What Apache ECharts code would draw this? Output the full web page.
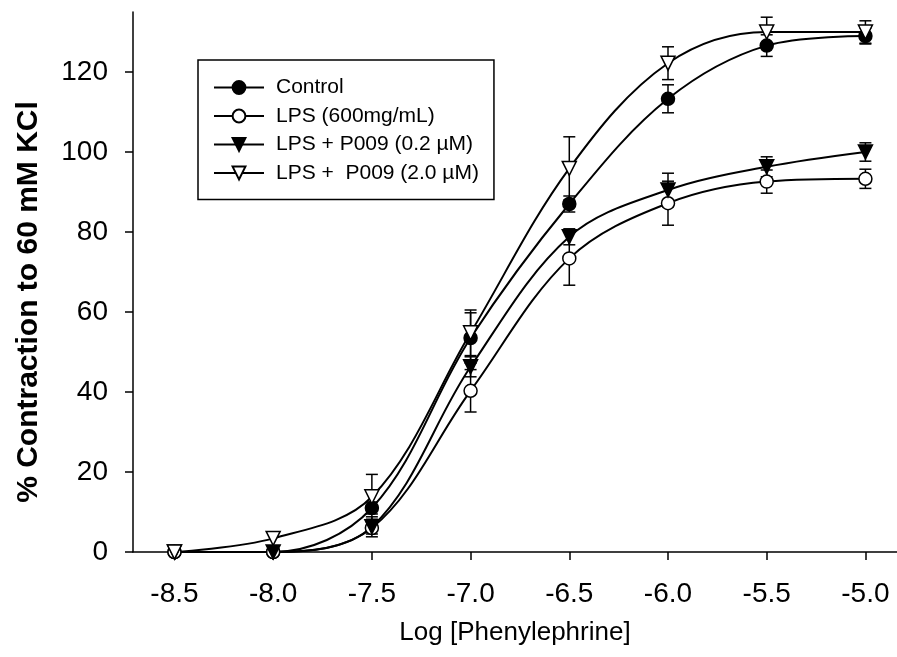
<!DOCTYPE html>
<html>
<head>
<meta charset="utf-8">
<title>Phenylephrine concentration-response</title>
<script src="https://cdn.jsdelivr.net/npm/echarts@6/dist/echarts.min.js"></script>
<style>
  html, body { margin: 0; padding: 0; background: #fff; }
  #chart { width: 897px; height: 657px; }
</style>
</head>
<body>
<div id="chart"></div>
<script>
// Log [Phenylephrine] doses
const logDose = [-8.5, -8.0, -7.5, -7.0, -6.5, -6.0, -5.5, -5.0];

// Mean % contraction and error (SEM) for each group
const controlMean = [0, 0, 11, 53.5, 87, 113.3, 126.6, 129];
const controlErr  = [0, 0, 1.5, 6.3, 2, 3.5, 2.7, 2];

const lpsMean = [0, 0, 6, 40.3, 73.4, 87.2, 92.6, 93.3];
const lpsErr  = [0, 0, 1.5, 5.3, 6.7, 5.5, 2.9, 2.4];

const p009LowMean = [0, 0, 6.3, 46.3, 78.8, 90.5, 96.3, 100];
const p009LowErr  = [0, 0, 2.5, 2.5, 2, 4.2, 2.5, 2.3];

const p009HighMean = [0, 3.4, 13.8, 54.8, 95.9, 122.2, 130, 130];
const p009HighErr  = [0, 0, 5.6, 5.7, 7.9, 4.1, 3.7, 2.8];

const seriesNames = [
  'Control',
  'LPS (600mg/mL)',
  'LPS + P009 (0.2 \u00b5M)',
  'LPS +  P009 (2.0 \u00b5M)'
];

// Axis tick positions
const xTicks = [-8.5, -8.0, -7.5, -7.0, -6.5, -6.0, -5.5, -5.0];
const yTicks = [0, 20, 40, 60, 80, 100, 120];

const yTitle = '% Contraction to 60 mM KCl';
const xTitle = 'Log [Phenylephrine]';

const FONT = '"Liberation Sans", Arial, Helvetica, sans-serif';

function pairs(means) {
  return logDose.map((x, i) => [x, means[i]]);
}
function errTriples(means, errs) {
  return logDose.map((x, i) => [x, means[i], errs[i]]);
}

// Vertical error bar with caps at both ends
function renderErrorBar(params, api) {
  const x = api.value(0), m = api.value(1), e = api.value(2);
  if (!e) return null;
  const top = api.coord([x, m + e]);
  const bot = api.coord([x, m - e]);
  const half = 6;
  const style = { stroke: '#000', lineWidth: 1.5 };
  return {
    type: 'group',
    children: [
      { type: 'line', shape: { x1: top[0], y1: top[1], x2: bot[0], y2: bot[1] }, style },
      { type: 'line', shape: { x1: top[0] - half, y1: top[1], x2: top[0] + half, y2: top[1] }, style },
      { type: 'line', shape: { x1: bot[0] - half, y1: bot[1], x2: bot[0] + half, y2: bot[1] }, style }
    ]
  };
}

const groups = [
  { name: seriesNames[0], mean: controlMean, err: controlErr, symbol: 'circle', size: 13, rotate: 0, fill: '#000' },
  { name: seriesNames[1], mean: lpsMean, err: lpsErr, symbol: 'circle', size: 13, rotate: 0, fill: '#fff' },
  { name: seriesNames[2], mean: p009LowMean, err: p009LowErr, symbol: 'triangle', size: 14, rotate: 180, fill: '#000' },
  { name: seriesNames[3], mean: p009HighMean, err: p009HighErr, symbol: 'triangle', size: 14, rotate: 180, fill: '#fff' }
];

const series = [];
groups.forEach(g => {
  series.push({
    type: 'custom',
    name: g.name + ' error',
    renderItem: renderErrorBar,
    data: errTriples(g.mean, g.err),
    encode: { x: 0, y: 1 },
    z: 1,
    silent: true
  });
});
groups.forEach(g => {
  series.push({
    type: 'line',
    name: g.name,
    data: pairs(g.mean),
    smooth: 0.35,
    symbol: g.symbol,
    symbolSize: g.size,
    symbolRotate: g.rotate,
    showAllSymbol: true,
    lineStyle: { color: '#000', width: 2 },
    itemStyle: { color: g.fill, borderColor: '#000', borderWidth: 1.5 },
    z: 3,
    animation: false
  });
});

const chart = echarts.init(document.getElementById('chart'), null, { renderer: 'canvas' });
chart.setOption({
  animation: false,
  backgroundColor: '#fff',
  textStyle: { fontFamily: FONT, color: '#000' },
  grid: { left: 133, right: 0, top: 12, bottom: 105 },
  legend: {
    data: seriesNames,
    orient: 'vertical',
    left: 198,
    top: 60,
    padding: [17, 15, 16, 15],
    itemGap: 7.5,
    itemWidth: 50,
    itemHeight: 16,
    borderColor: '#000',
    borderWidth: 1.5,
    borderRadius: 0,
    textStyle: { fontFamily: FONT, fontSize: 21, color: '#000', lineHeight: 21, padding: [0, 0, 0, 7] },
    selectedMode: false
  },
  // Rotated y-axis title
  graphic: [{
    type: 'text',
    x: 29,
    y: 302,
    rotation: Math.PI / 2,
    silent: true,
    style: {
      text: yTitle,
      fontFamily: FONT,
      fontSize: 30,
      fontWeight: 'bold',
      fill: '#000',
      align: 'center',
      verticalAlign: 'middle'
    }
  }],
  xAxis: {
    type: 'value',
    min: -8.71,
    max: -4.84,
    name: xTitle,
    nameLocation: 'middle',
    nameGap: 68,
    nameTextStyle: { fontFamily: FONT, fontSize: 26, color: '#000' },
    axisLine: { show: true, onZero: false, lineStyle: { color: '#000', width: 1.5 } },
    axisTick: { show: true, length: 8, inside: false, customValues: xTicks, lineStyle: { color: '#000', width: 1.5 } },
    axisLabel: {
      fontFamily: FONT, fontSize: 28, color: '#000', margin: 28,
      customValues: xTicks,
      formatter: v => v.toFixed(1)
    },
    splitLine: { show: false }
  },
  yAxis: {
    type: 'value',
    min: 0,
    max: 135,
    axisLine: { show: true, lineStyle: { color: '#000', width: 1.5 } },
    axisTick: { show: true, length: 8, inside: false, customValues: yTicks, lineStyle: { color: '#000', width: 1.5 } },
    axisLabel: {
      fontFamily: FONT, fontSize: 28, color: '#000', margin: 25,
      customValues: yTicks
    },
    splitLine: { show: false }
  },
  series: series
});
</script>
</body>
</html>
